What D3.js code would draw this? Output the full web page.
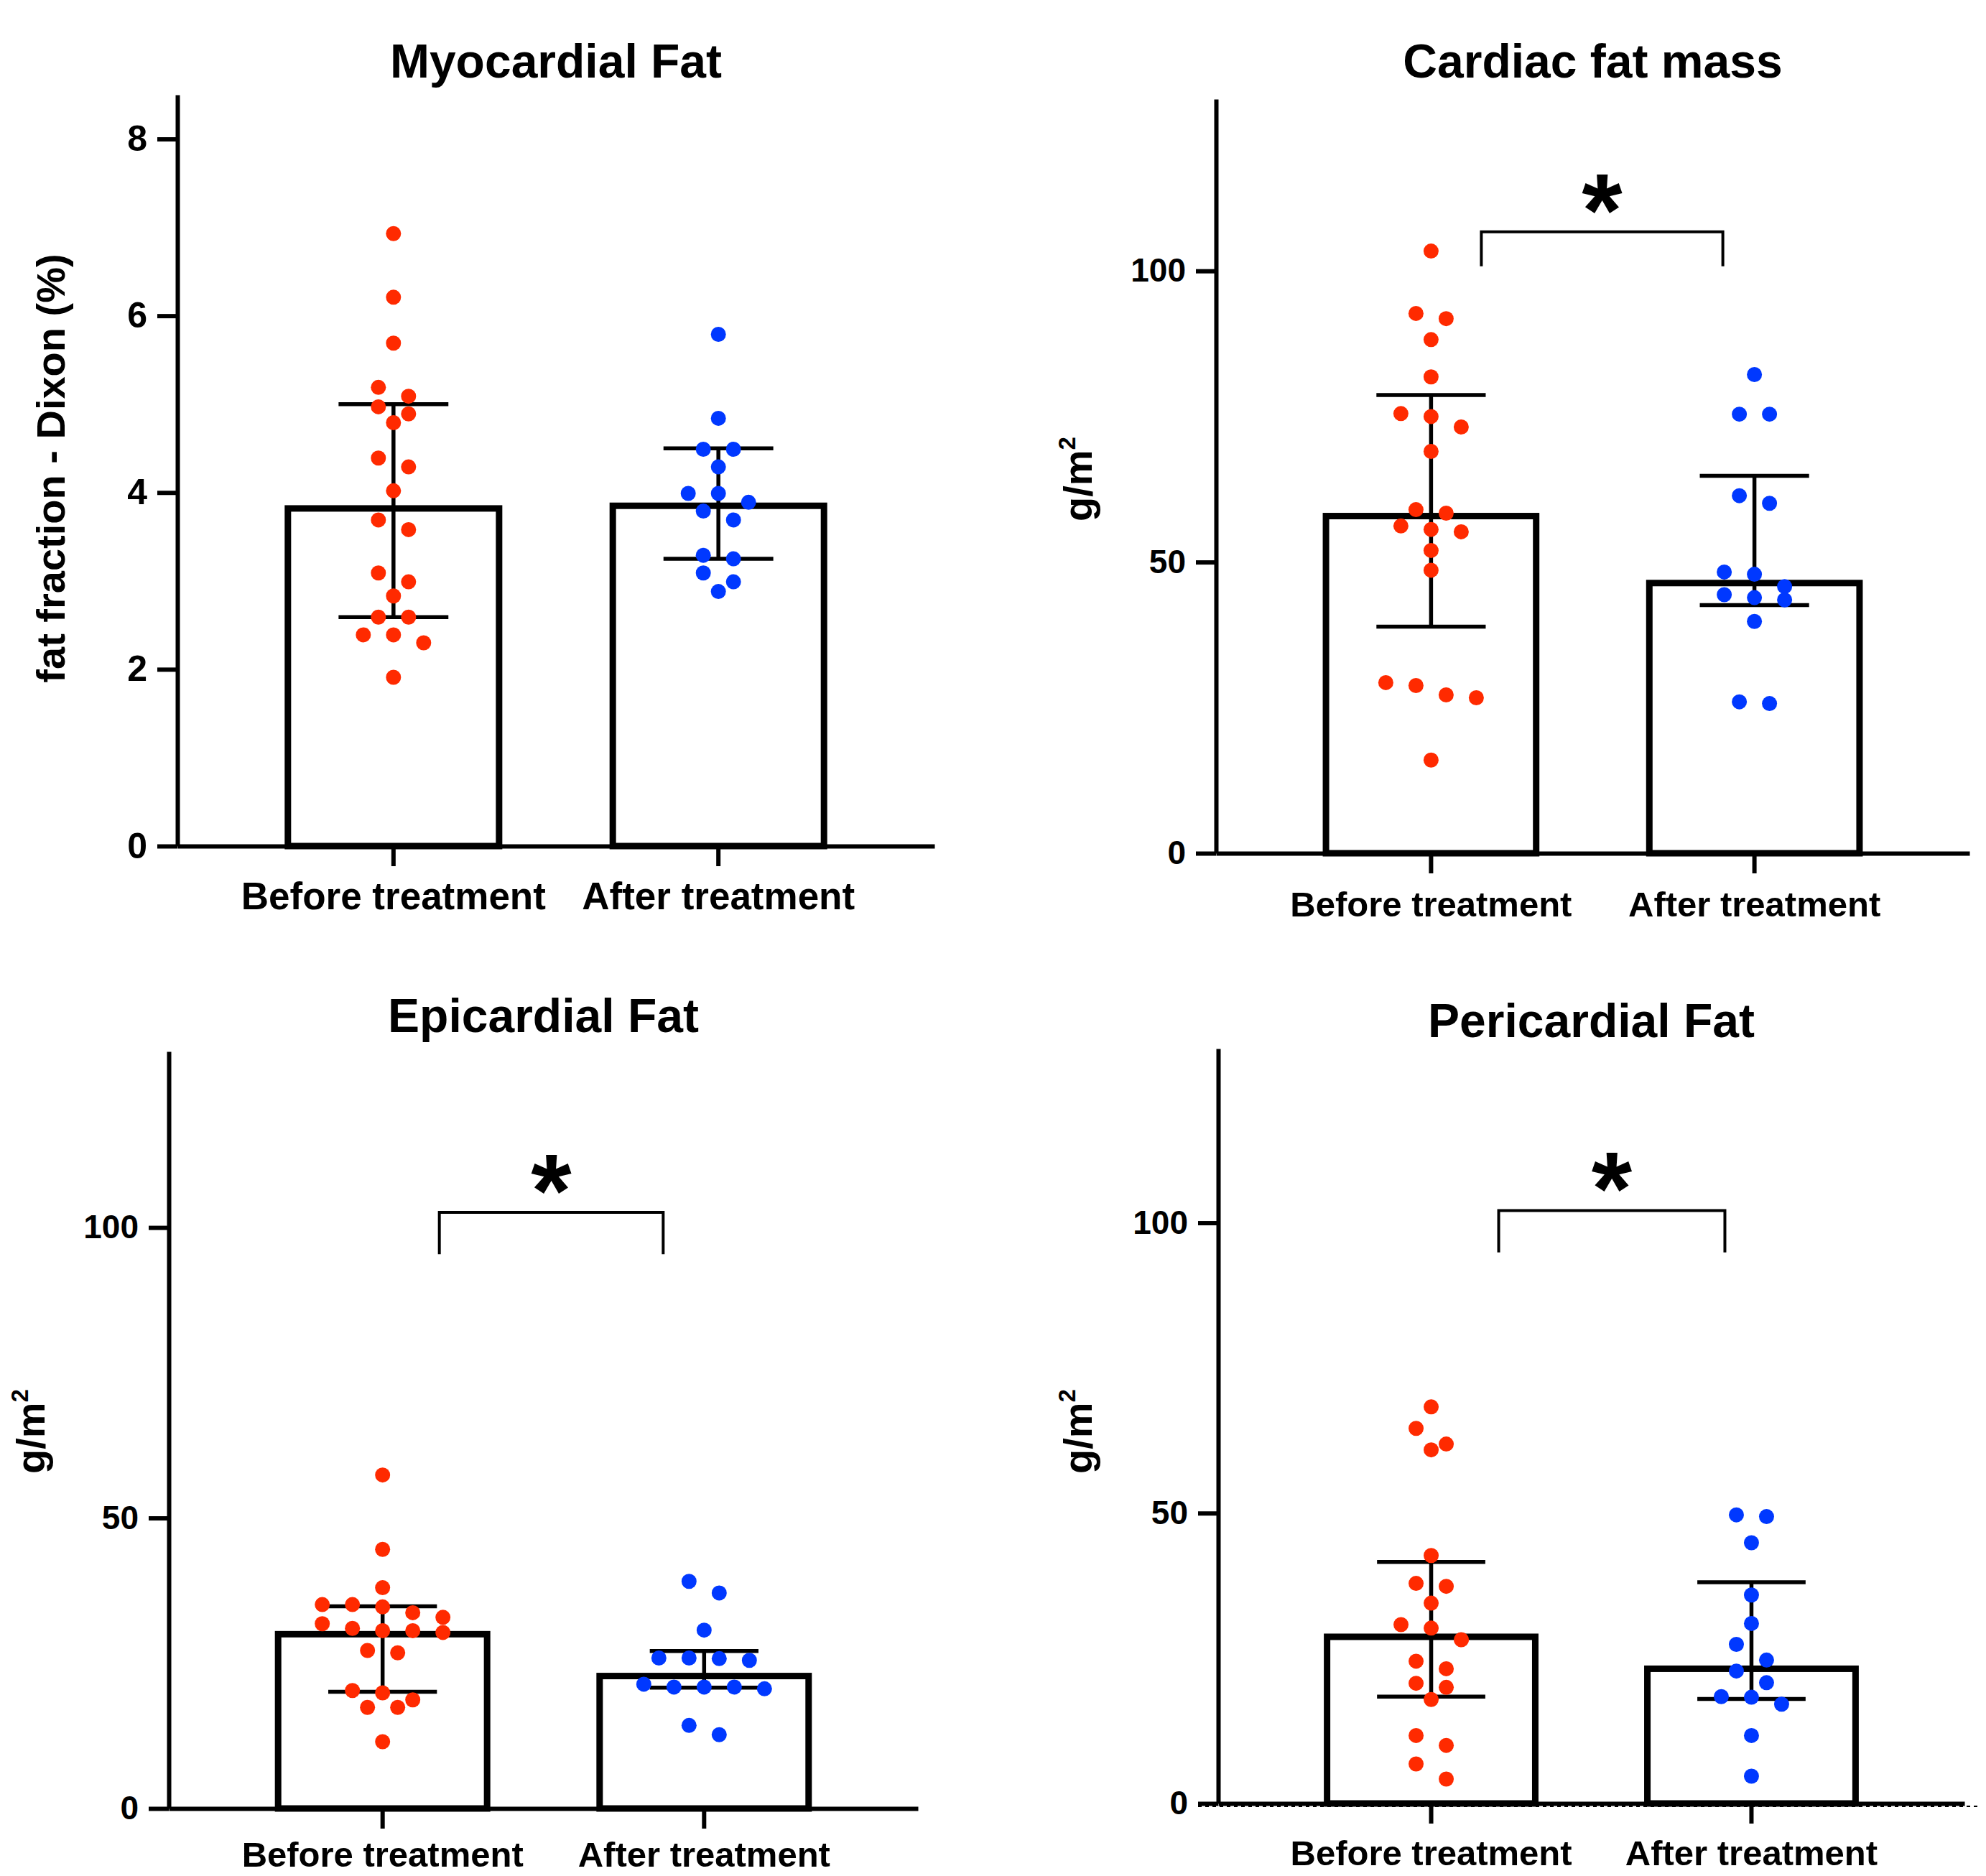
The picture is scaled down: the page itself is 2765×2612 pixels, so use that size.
<!DOCTYPE html>
<html>
<head>
<meta charset="utf-8">
<script src="https://cdn.jsdelivr.net/npm/d3@7"></script>
<style>
  body { margin: 0; background: #fff; }
  svg { display: block; background: #fff; }
  text { font-family: "Liberation Sans", Arial, Helvetica, sans-serif; font-weight: bold; fill: #000; }
</style>
</head>
<body>
<svg></svg>
<script>
// categories
let groups = ['Before treatment', 'After treatment'];

// Myocardial fat (fat fraction, %)
let myoBefore = [6.93, 6.21, 5.69, 5.19, 5.09, 4.97, 4.89, 4.79, 4.39, 4.29, 4.02, 3.69, 3.58, 3.09, 2.99, 2.83, 2.59, 2.59, 2.39, 2.39, 2.30, 1.91];
let myoAfter = [5.79, 4.84, 4.49, 4.49, 4.29, 3.99, 3.99, 3.89, 3.79, 3.69, 3.29, 3.25, 3.09, 2.99, 2.88];
let myoBars = [3.82, 3.85];
let myoLow = [2.59, 3.25];
let myoHigh = [5.0, 4.5];

// Cardiac fat mass (g/m2)
let cardBefore = [103.4, 92.7, 91.8, 88.2, 81.8, 75.5, 75.0, 73.2, 69.0, 59.0, 58.4, 56.2, 55.6, 55.2, 52.0, 48.6, 29.3, 28.8, 27.2, 26.7, 16.0];
let cardAfter = [82.2, 75.4, 75.4, 61.4, 60.1, 48.3, 47.9, 45.8, 44.4, 43.9, 43.5, 39.8, 26.0, 25.7];
let cardBars = [57.9, 46.4];
let cardLow = [38.9, 42.6];
let cardHigh = [78.7, 64.8];

// Epicardial fat (g/m2)
let epiBefore = [57.4, 44.6, 38.0, 35.1, 35.1, 34.7, 33.7, 32.9, 31.8, 31.0, 30.6, 30.6, 30.3, 27.2, 26.8, 20.3, 19.9, 18.7, 17.4, 17.4, 11.5];
let epiAfter = [39.1, 37.1, 30.7, 25.9, 25.9, 25.8, 25.5, 21.4, 20.9, 20.9, 20.9, 20.6, 14.3, 12.7];
let epiBars = [30.0, 22.8];
let epiLow = [20.1, 20.8];
let epiHigh = [34.8, 27.1];

// Pericardial fat (g/m2)
let periBefore = [68.3, 64.6, 61.9, 60.9, 42.7, 37.9, 37.4, 34.5, 30.8, 30.2, 28.2, 24.5, 23.2, 20.7, 20.0, 17.9, 11.7, 10.0, 6.8, 4.2];
let periAfter = [49.7, 49.4, 44.9, 35.9, 31.0, 27.4, 24.7, 22.8, 20.8, 18.4, 18.3, 17.1, 11.7, 4.7];
let periBars = [28.7, 23.2];
let periLow = [18.4, 18.0];
let periHigh = [41.6, 38.1];

// tick labels
let myoTicks = [0, 2, 4, 6, 8];
let massTicks = [0, 50, 100];

let w = 2765;
let h = 2612;
let red = '#ff2a00';
let blue = '#0038ff';
let font = '"Liberation Sans", Arial, Helvetica, sans-serif';

let svg = d3.select('svg').attr('width', w).attr('height', h);

let panels = [
  {title: 'Myocardial Fat', label: 'fat fraction - Dixon (%)', sup: false,
   before: myoBefore, after: myoAfter, bars: myoBars, low: myoLow, high: myoHigh, ticks: myoTicks, max: 8.5,
   x0: 247, x1: 1301, yTop: 132, y0: 1178, titleY: 108, tickFont: 50, catFont: 53, catY: 88,
   labelX: 90, labelY: 652, star: null},
  {title: 'Cardiac fat mass', label: 'g/m', sup: true,
   before: cardBefore, after: cardAfter, bars: cardBars, low: cardLow, high: cardHigh, ticks: massTicks, max: 129.5,
   x0: 1693, x1: 2742, yTop: 138, y0: 1188, titleY: 108, tickFont: 46, catFont: 49, catY: 88,
   labelX: 1520, labelY: 667, star: {top: 106.7, leg: 100.8, left: 70, right: 44}},
  {title: 'Epicardial Fat', label: 'g/m', sup: true,
   before: epiBefore, after: epiAfter, bars: epiBars, low: epiLow, high: epiHigh, ticks: massTicks, max: 130.3,
   x0: 235, x1: 1278, yTop: 1464, y0: 2518, titleY: 1437, tickFont: 46, catFont: 49, catY: 81,
   labelX: 62, labelY: 1993, star: {top: 102.6, leg: 95.4, left: 79, right: 57}},
  {title: 'Pericardial Fat', label: 'g/m', sup: true, dotted: true,
   before: periBefore, after: periAfter, bars: periBars, low: periLow, high: periHigh, ticks: massTicks, max: 130,
   x0: 1696, x1: 2735, yTop: 1460, y0: 2511, titleY: 1444, tickFont: 46, catFont: 49, catY: 86,
   labelX: 1520, labelY: 1993, star: {top: 102.1, leg: 94.9, left: 94, right: 37}}
];

// simple row-based swarm: points close in y share a row and spread sideways
let swarm = (vals, yScale, u) => {
  let idx = vals.map((v, i) => i).sort((a, b) => vals[b] - vals[a]);
  let off = vals.map(() => 0);
  let k = 0;
  while (k < idx.length) {
    let start = yScale(vals[idx[k]]);
    let row = [idx[k]];
    k++;
    while (k < idx.length && yScale(vals[idx[k]]) - start < 22) {
      row.push(idx[k]);
      k++;
    }
    row.forEach((j, m) => off[j] = (m - (row.length - 1) / 2) * 2 * u);
  }
  return off;
};

let drawPanel = (p) => {
  let g = svg.append('g');

  let yScale = d3.scaleLinear().domain([0, p.max]).range([p.y0, p.yTop]);
  let xScale = d3.scaleBand().domain(groups).range([p.x0, p.x1])
                 .paddingInner(0.35).paddingOuter(0.34);
  let bw = xScale.bandwidth();
  let cx = d => xScale(d) + bw / 2;

  // bars
  g.selectAll('rect.bar')
   .data(groups)
   .enter()
   .append('rect')
   .attr('class', 'bar')
   .attr('x', d => xScale(d))
   .attr('width', bw)
   .attr('y', (d, i) => yScale(p.bars[i]))
   .attr('height', (d, i) => p.y0 - yScale(p.bars[i]))
   .attr('fill', '#fff')
   .attr('stroke', '#000')
   .attr('stroke-width', 9);

  // error bars
  let cap = bw * 0.26;
  groups.forEach((d, i) => {
    let eg = g.append('g').attr('stroke', '#000').attr('stroke-width', 5.5);
    eg.append('line').attr('x1', cx(d)).attr('x2', cx(d))
      .attr('y1', yScale(p.low[i])).attr('y2', yScale(p.high[i]));
    [p.low[i], p.high[i]].forEach(v => {
      eg.append('line').attr('x1', cx(d) - cap).attr('x2', cx(d) + cap)
        .attr('y1', yScale(v)).attr('y2', yScale(v));
    });
  });

  // dots
  [[p.before, red], [p.after, blue]].forEach(([vals, col], i) => {
    let off = swarm(vals, yScale, 21);
    g.append('g')
     .selectAll('circle')
     .data(vals)
     .enter()
     .append('circle')
     .attr('cx', (v, j) => cx(groups[i]) + off[j])
     .attr('cy', v => yScale(v))
     .attr('r', 10.5)
     .attr('fill', col);
  });

  // axes
  let yAxis = d3.axisLeft(yScale).tickValues(p.ticks).tickSize(28).tickSizeOuter(0).tickPadding(14);
  let ya = g.append('g')
            .attr('transform', 'translate(' + p.x0 + ',0)')
            .call(yAxis)
            .attr('font-family', font)
            .attr('font-weight', 'bold')
            .attr('font-size', p.tickFont);
  ya.selectAll('path, line').attr('stroke', '#000').attr('stroke-width', 6);

  let xAxis = d3.axisBottom(xScale).tickSize(28).tickSizeOuter(0);
  let xa = g.append('g')
            .attr('transform', 'translate(0,' + p.y0 + ')')
            .call(xAxis)
            .attr('font-family', font)
            .attr('font-weight', 'bold')
            .attr('font-size', p.catFont);
  xa.selectAll('path, line').attr('stroke', '#000').attr('stroke-width', 6);
  xa.selectAll('text').attr('y', p.catY).attr('dy', null);

  if (p.dotted) {
    g.append('line')
     .attr('x1', p.x0 - 28).attr('x2', p.x1 + 20)
     .attr('y1', p.y0 + 4).attr('y2', p.y0 + 4)
     .attr('stroke', '#000').attr('stroke-width', 2)
     .attr('stroke-dasharray', '5,5');
  }

  // title
  g.append('text')
   .attr('x', (p.x0 + p.x1) / 2)
   .attr('y', p.titleY)
   .attr('text-anchor', 'middle')
   .attr('font-size', 66)
   .text(p.title);

  // y label
  let yl = g.append('text')
            .attr('transform', 'translate(' + p.labelX + ',' + p.labelY + ') rotate(-90)')
            .attr('text-anchor', 'middle')
            .attr('font-size', 56)
            .text(p.label);
  if (p.sup) {
    yl.append('tspan').attr('font-size', 33).attr('dy', -23).text('2');
  }

  // significance bracket
  if (p.star) {
    let s = p.star;
    let lx = cx(groups[0]) + s.left;
    let rx = cx(groups[1]) - s.right;
    let ty = yScale(s.top);
    let ly = yScale(s.leg);
    g.append('path')
     .attr('d', 'M' + lx + ',' + ly + 'V' + ty + 'H' + rx + 'V' + ly)
     .attr('fill', 'none')
     .attr('stroke', '#000')
     .attr('stroke-width', 4);
    g.append('text')
     .attr('x', (lx + rx) / 2)
     .attr('y', ty - 65 + 0.585 * 145)
     .attr('text-anchor', 'middle')
     .attr('font-size', 145)
     .text('*');
  }
};

panels.forEach(drawPanel);
</script>
</body>
</html>
